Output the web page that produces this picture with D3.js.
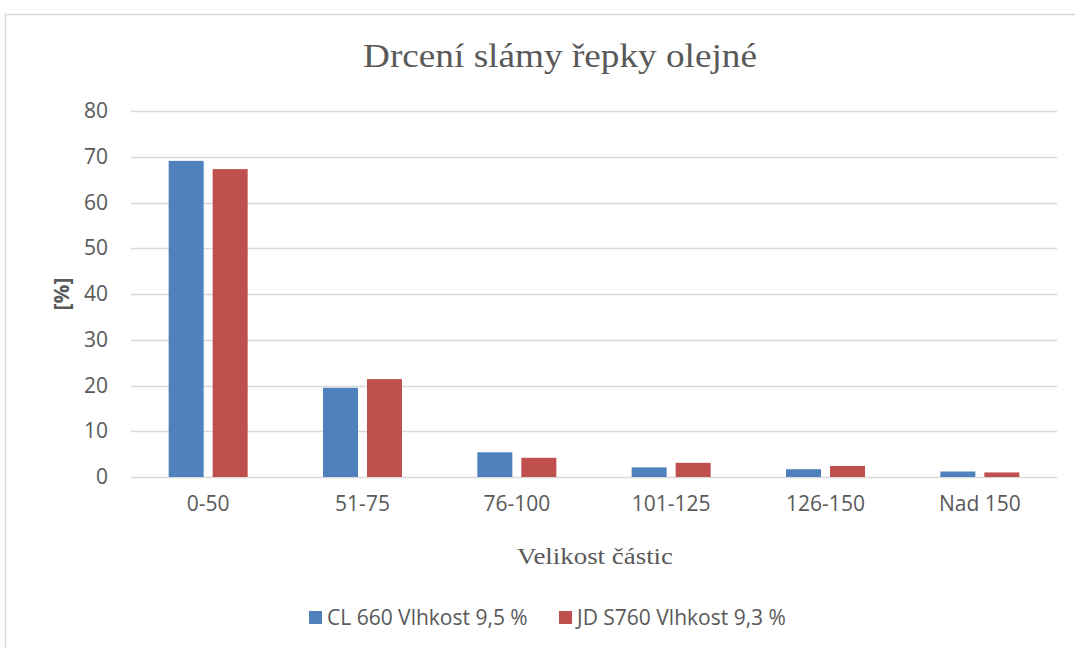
<!DOCTYPE html>
<html>
<head>
<meta charset="utf-8">
<script src="https://cdn.jsdelivr.net/npm/d3@7"></script>
<style>
  body { margin: 0; background: #fff; }
  text { fill: #595959; }
</style>
</head>
<body>
<div id="chart"></div>
<script>
const categories = ["0-50", "51-75", "76-100", "101-125", "126-150", "Nad 150"];
const seriesNames = ["CL 660 Vlhkost 9,5 %", "JD S760 Vlhkost 9,3 %"];
const cl660 = [69.1, 19.5, 5.4, 2.1, 1.7, 1.2];
const jdS760 = [67.3, 21.4, 4.2, 3.1, 2.4, 1.0];
const yTicks = [0, 10, 20, 30, 40, 50, 60, 70, 80];
const colors = ["#4f81bd", "#c0504d"];

const W = 1075, H = 648;
const margin = {left: 131, right: 18, top: 111, bottom: 171};
const width = W - margin.left - margin.right;
const height = H - margin.top - margin.bottom;
const sans = "'Open Sans', 'Liberation Sans', sans-serif";
const serif = "'Liberation Serif', 'Times New Roman', serif";

const svg = d3.select("#chart").append("svg")
    .attr("width", W).attr("height", H);

// chart border
svg.append("rect")
    .attr("x", 5.5).attr("y", 14.5)
    .attr("width", W + 10).attr("height", H)
    .attr("fill", "none").attr("stroke", "#d9d9d9").attr("stroke-width", 1.5);

const g = svg.append("g").attr("transform", `translate(${margin.left},${margin.top})`);

let x = d3.scaleBand(categories, [0, width]);
let y = d3.scaleLinear([0, 80], [height, 0]);
const groupW = 79;
let xs = d3.scaleBand([0, 1], [0, groupW]).paddingInner(9 / 44);

// grid
g.append("g")
    .selectAll("line")
    .data(yTicks)
    .join("line")
    .attr("x1", 0).attr("x2", width)
    .attr("y1", d => Math.round(y(d)) + 0.5).attr("y2", d => Math.round(y(d)) + 0.5)
    .attr("stroke", "#d9d9d9").attr("stroke-width", 1.5);

// y tick labels
g.append("g")
    .call(d3.axisLeft(y).tickValues(yTicks).tickSize(0).tickPadding(23))
    .call(a => a.select(".domain").remove())
    .selectAll("text")
    .style("font-family", sans)
    .style("font-size", "21px")
    .attr("fill", "#595959");

// x tick labels
g.append("g")
    .attr("transform", `translate(0,${height})`)
    .call(d3.axisBottom(x).tickSize(0).tickPadding(19))
    .call(a => a.select(".domain").remove())
    .selectAll("text")
    .style("font-family", sans)
    .style("font-size", "21px")
    .attr("fill", "#595959");

const rows = categories.map((c, i) => ({cat: c, vals: [cl660[i], jdS760[i]]}));

// bars
g.append("g")
    .selectAll("g")
    .data(rows)
    .join("g")
    .attr("transform", d => `translate(${x(d.cat) + (x.bandwidth() - groupW) / 2},0)`)
    .selectAll("rect")
    .data(d => d.vals.map((v, k) => ({k, v})))
    .join("rect")
    .attr("x", d => xs(d.k))
    .attr("width", xs.bandwidth())
    .attr("y", d => y(d.v))
    .attr("height", d => y(0) - y(d.v))
    .attr("fill", d => colors[d.k]);

// title
svg.append("text")
    .attr("x", 560).attr("y", 67)
    .attr("text-anchor", "middle")
    .attr("textLength", 394).attr("lengthAdjust", "spacingAndGlyphs")
    .style("font-family", serif)
    .style("font-size", "34px")
    .text("Drcení slámy řepky olejné");

// axis titles
svg.append("text")
    .attr("transform", `translate(69,${margin.top + height / 2}) rotate(-90)`)
    .attr("text-anchor", "middle")
    .style("font-family", sans)
    .style("font-size", "21px").style("font-weight", "bold")
    .text("[%]");

svg.append("text")
    .attr("x", 595).attr("y", 564)
    .attr("text-anchor", "middle")
    .attr("textLength", 156).attr("lengthAdjust", "spacingAndGlyphs")
    .style("font-family", serif)
    .style("font-size", "24px")
    .text("Velikost částic");

// legend
const legendX = [309, 559];
const lg = svg.append("g")
    .selectAll("g")
    .data(seriesNames)
    .join("g")
    .attr("transform", (d, i) => `translate(${legendX[i]},611)`);
lg.append("rect").attr("width", 13).attr("height", 13).attr("fill", (d, i) => colors[i]);
lg.append("text")
    .attr("x", 18).attr("y", 14)
    .style("font-family", sans)
    .style("font-size", "21px")
    .text(d => d);
</script>
</body>
</html>
